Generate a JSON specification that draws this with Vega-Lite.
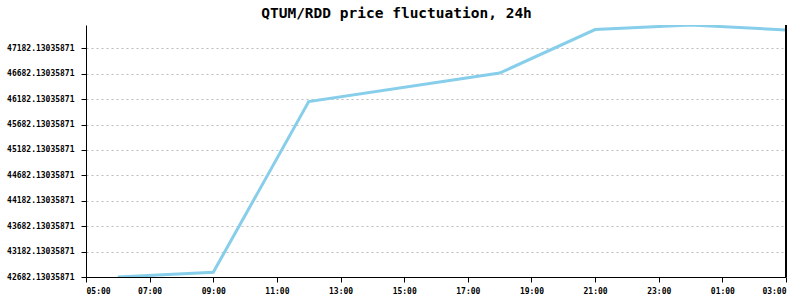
{
  "$schema": "https://vega.github.io/schema/vega-lite/v6.json",
  "width": 700,
  "height": 252,
  "autosize": "none",
  "padding": {"left": 86, "top": 25, "right": 14, "bottom": 23},
  "background": "white",
  "title": {
    "text": "QTUM/RDD price fluctuation, 24h",
    "font": "DejaVu Sans Mono",
    "fontSize": 14.5,
    "fontWeight": "bold",
    "color": "#000000",
    "anchor": "middle",
    "frame": "bounds",
    "offset": 3
  },
  "data": {
    "values": [
      {"time": "2024-01-01T06:00:00", "price": 42682.13035871},
      {"time": "2024-01-01T09:00:00", "price": 42775},
      {"time": "2024-01-01T12:00:00", "price": 46133},
      {"time": "2024-01-01T18:00:00", "price": 46695},
      {"time": "2024-01-01T21:00:00", "price": 47552},
      {"time": "2024-01-02T00:00:00", "price": 47641},
      {"time": "2024-01-02T03:00:00", "price": 47543}
    ]
  },
  "config": {
    "view": {"stroke": null},
    "axis": {
      "labelFont": "DejaVu Sans Mono",
      "labelFontSize": 8,
      "labelFontWeight": "bold",
      "labelColor": "#000000",
      "domainColor": "#000000",
      "tickColor": "#000000",
      "domainWidth": 1,
      "tickWidth": 1,
      "tickSize": 5,
      "titleFontSize": 0
    }
  },
  "layer": [
    {
      "mark": {"type": "line", "color": "#87CEEB", "strokeWidth": 3, "clip": true},
      "encoding": {
        "x": {
          "field": "time",
          "type": "temporal",
          "title": null,
          "scale": {
            "domain": [
              {"year": 2024, "month": 1, "date": 1, "hours": 5},
              {"year": 2024, "month": 1, "date": 2, "hours": 3}
            ],
            "nice": false
          },
          "axis": {
            "format": "%H:%M",
            "grid": false,
            "labelPadding": 5,
            "values": [
              {"year": 2024, "month": 1, "date": 1, "hours": 5},
              {"year": 2024, "month": 1, "date": 1, "hours": 7},
              {"year": 2024, "month": 1, "date": 1, "hours": 9},
              {"year": 2024, "month": 1, "date": 1, "hours": 11},
              {"year": 2024, "month": 1, "date": 1, "hours": 13},
              {"year": 2024, "month": 1, "date": 1, "hours": 15},
              {"year": 2024, "month": 1, "date": 1, "hours": 17},
              {"year": 2024, "month": 1, "date": 1, "hours": 19},
              {"year": 2024, "month": 1, "date": 1, "hours": 21},
              {"year": 2024, "month": 1, "date": 1, "hours": 23},
              {"year": 2024, "month": 1, "date": 2, "hours": 1},
              {"year": 2024, "month": 1, "date": 2, "hours": 3}
            ]
          }
        },
        "y": {
          "field": "price",
          "type": "quantitative",
          "title": null,
          "scale": {"domain": [42682.13035871, 47641], "nice": false, "zero": false},
          "axis": {
            "format": ".8f",
            "grid": true,
            "gridColor": "#bbbbbb",
            "gridDash": [2, 3],
            "labelPadding": 7,
            "values": [42682.13035871, 43182.13035871, 43682.13035871, 44182.13035871, 44682.13035871, 45182.13035871, 45682.13035871, 46182.13035871, 46682.13035871, 47182.13035871]
          }
        }
      }
    },
    {
      "mark": {"type": "rule", "color": "#000000", "strokeWidth": 1},
      "encoding": {
        "x": {"datum": {"year": 2024, "month": 1, "date": 2, "hours": 3}, "type": "temporal"}
      }
    }
  ]
}
